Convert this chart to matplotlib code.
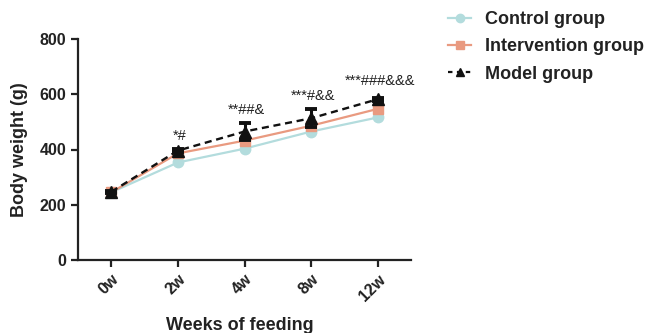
import matplotlib
matplotlib.use("Agg")
import matplotlib.pyplot as plt
from matplotlib.lines import Line2D
import numpy as np

plt.rcParams['font.family'] = ['Liberation Sans', 'DejaVu Sans']

weeks = ["0w", "2w", "4w", "8w", "12w"]
control = [245, 353, 403, 465, 516]
control_err = [5, 6, 6, 7, 8]
intervention = [245, 386, 432, 486, 547]
intervention_err = [5, 6, 8, 8, 10]
model = [247, 396, 465, 513, 582]
model_err = [4, 6, 32, 33, 6]
annotations = ["", "*#", "**##&", "***#&&", "***###&&&"]

c_control = "#b3dcdd"
c_interv = "#e99a80"
c_model = "#111111"

fig = plt.figure(figsize=(6.47, 3.33), dpi=100)
ax = fig.add_axes([78/647, 1-260/333, (411-78)/647, (260-39)/333])
x = np.arange(len(weeks))

ax.errorbar(x, control, yerr=control_err, color=c_control, marker='o', markersize=7.5,
            lw=1.6, capsize=3, elinewidth=1.5, capthick=1.5, zorder=2)
ax.errorbar(x, intervention, yerr=intervention_err, color=c_interv, marker='s', markersize=7.5,
            lw=1.6, capsize=3, elinewidth=1.5, capthick=1.5, zorder=3)
ax.errorbar(x, model, yerr=model_err, color=c_model, marker='^', markersize=9,
            lw=1.7, ls=(0, (3, 2)), capsize=4.5, elinewidth=2.2, capthick=2.8, zorder=4)

offsets = [0, 22, 22, 22, 36]
for xi, yi, e, t, o in zip(x, model, model_err, annotations, offsets):
    if t:
        ax.text(xi + 0.03, yi + e + o, t, ha='center', va='bottom', fontsize=10.5, color='#222222')

ax.set_xlim(-0.5, 4.5)
ax.set_ylim(0, 800)
ax.set_yticks([0, 200, 400, 600, 800])
ax.set_xticks(x)
ax.set_xticklabels(weeks, rotation=45, ha='right', rotation_mode='anchor', fontweight='bold', fontsize=11.5)
for lab in ax.get_yticklabels():
    lab.set_fontweight('bold')
    lab.set_fontsize(11.5)
ax.tick_params(axis='both', width=1.6, length=5, color='#222222', labelcolor='#222222')
for s in ['top', 'right']:
    ax.spines[s].set_visible(False)
for s in ['left', 'bottom']:
    ax.spines[s].set_linewidth(1.6)
    ax.spines[s].set_color('#222222')

ax.set_ylabel("Body weight (g)", fontweight='bold', fontsize=13, color='#222222', labelpad=8)
ax.set_xlabel("Weeks of feeding", fontweight='bold', fontsize=13, color='#222222', labelpad=10)
ax.xaxis.set_label_coords((240 - 78) / 333, -0.26)

handles = [
    Line2D([], [], color=c_control, marker='o', markersize=6, lw=1.6),
    Line2D([], [], color=c_interv, marker='s', markersize=6, lw=1.6),
    Line2D([], [], color=c_model, marker='^', markersize=6, lw=1.6, ls=(0, (2, 2))),
]
labels = ["Control group", "Intervention group", "Model group"]
fig.legend(handles, labels, loc='upper left', bbox_to_anchor=(437/647, 1.0),
           frameon=False, prop={'weight': 'bold', 'size': 13}, handlelength=1.3,
           handletextpad=0.75, labelspacing=0.58, borderaxespad=0.2,
           labelcolor='#222222')

fig.savefig("out.png", dpi=100)
